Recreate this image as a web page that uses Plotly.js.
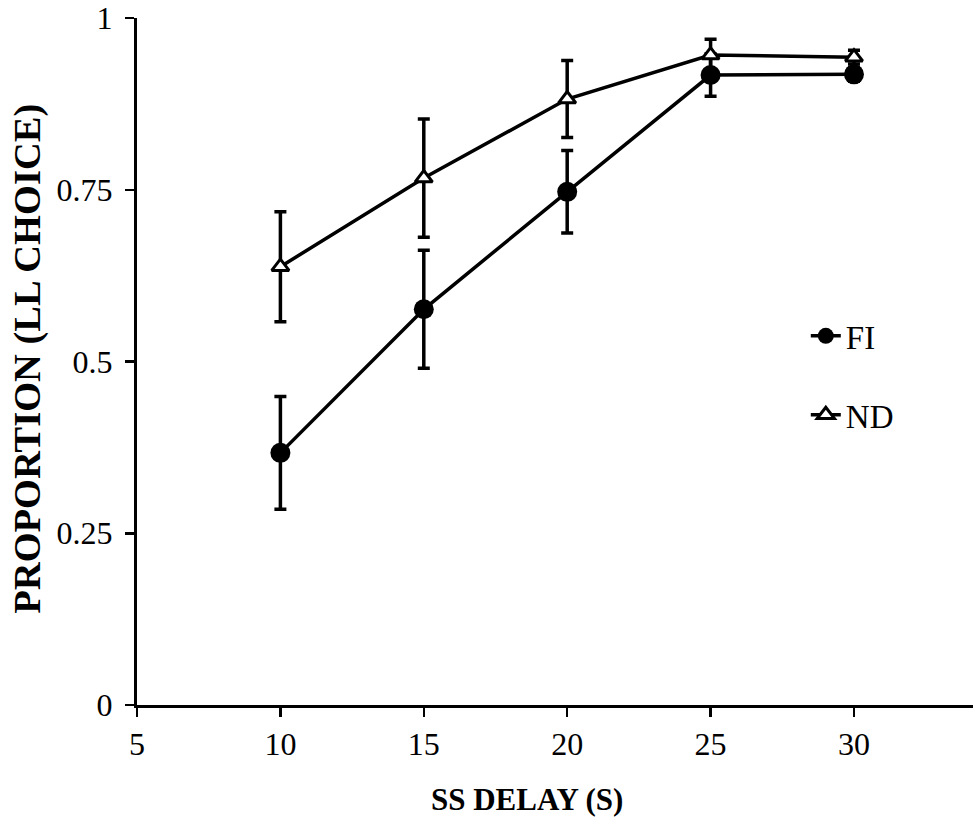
<!DOCTYPE html>
<html>
<head>
<meta charset="utf-8">
<script src="https://cdn.plot.ly/plotly-3.0.1.min.js"></script>
<style>html,body{margin:0;padding:0;background:#fff;}#chart{width:975px;height:824px;}</style>
</head>
<body>
<div id="chart"></div>
<script>
// Data
const delays = [10, 15, 20, 25, 30];
const fiValues = [0.367, 0.576, 0.747, 0.917, 0.918];
const fiErrors = [0.082, 0.086, 0.060, 0.031, 0.010];
const ndValues = [0.638, 0.767, 0.882, 0.946, 0.943];
const ndErrors = [0.080, 0.086, 0.056, 0.023, 0.010];
const seriesNames = ["FI", "ND"];
const xTicks = [5, 10, 15, 20, 25, 30];
const yTicks = [0, 0.25, 0.5, 0.75, 1];
const yTickLabels = ["0", "0.25", "0.5", "0.75", "1"];
const xTitle = "SS DELAY (S)";
const yTitle = "PROPORTION (LL CHOICE)";

const serif = "'Liberation Serif', 'Times New Roman', Times, serif";

const traces = [
  {
    x: delays, y: fiValues, name: seriesNames[0], type: "scatter", mode: "lines+markers",
    legendgroup: "a",
    line: {color: "#000", width: 3.5},
    marker: {symbol: "circle", size: 20, color: "#000"},
    error_y: {type: "data", array: fiErrors, visible: true, color: "#000", thickness: 3.5, width: 6}
  },
  {
    x: delays, y: ndValues, name: seriesNames[1], type: "scatter", mode: "lines+markers",
    legendgroup: "b",
    line: {color: "#000", width: 3.5},
    marker: {symbol: "triangle-up", size: 15, color: "#fff", line: {color: "#000", width: 3}},
    error_y: {type: "data", array: ndErrors, visible: true, color: "#000", thickness: 3.5, width: 6}
  }
];

const layout = {
  width: 975, height: 824,
  margin: {l: 137, r: 2, t: 18, b: 119},
  paper_bgcolor: "#fff", plot_bgcolor: "#fff",
  font: {family: serif, color: "#000", size: 32},
  showlegend: true,
  legend: {
    x: 0.80, y: 0.578, xanchor: "left", yanchor: "top",
    bgcolor: "rgba(0,0,0,0)", font: {family: serif, size: 33, color: "#000"},
    traceorder: "grouped", tracegroupgap: 33
  },
  xaxis: {
    range: [5, 34.15], tickvals: xTicks, ticktext: xTicks.map(String),
    showgrid: false, zeroline: false, showline: true, linecolor: "#000", linewidth: 3,
    ticks: "outside", ticklen: 9, tickwidth: 2.5, tickcolor: "#000",
    tickfont: {family: serif, size: 32, color: "#000"}
  },
  yaxis: {
    range: [0, 1], tickvals: yTicks, ticktext: yTickLabels,
    showgrid: false, zeroline: false, showline: true, linecolor: "#000", linewidth: 3,
    ticks: "outside", ticklen: 9, tickwidth: 2.5, tickcolor: "#000",
    ticklabelstandoff: 6,
    tickfont: {family: serif, size: 32, color: "#000"}
  },
  annotations: [
    {text: "<b>" + xTitle + "</b>", xref: "paper", yref: "paper", x: 0.4665, y: -0.138,
     xanchor: "center", yanchor: "middle", showarrow: false,
     font: {family: serif, size: 31, color: "#000"}},
    {text: "<b>" + yTitle + "</b>", xref: "paper", yref: "paper", x: -0.132, y: 0.5036,
     xanchor: "center", yanchor: "middle", showarrow: false, textangle: -90,
     font: {family: serif, size: 38.5, color: "#000"}}
  ]
};

Plotly.newPlot("chart", traces, layout, {displayModeBar: false, staticPlot: true});
</script>
</body>
</html>
